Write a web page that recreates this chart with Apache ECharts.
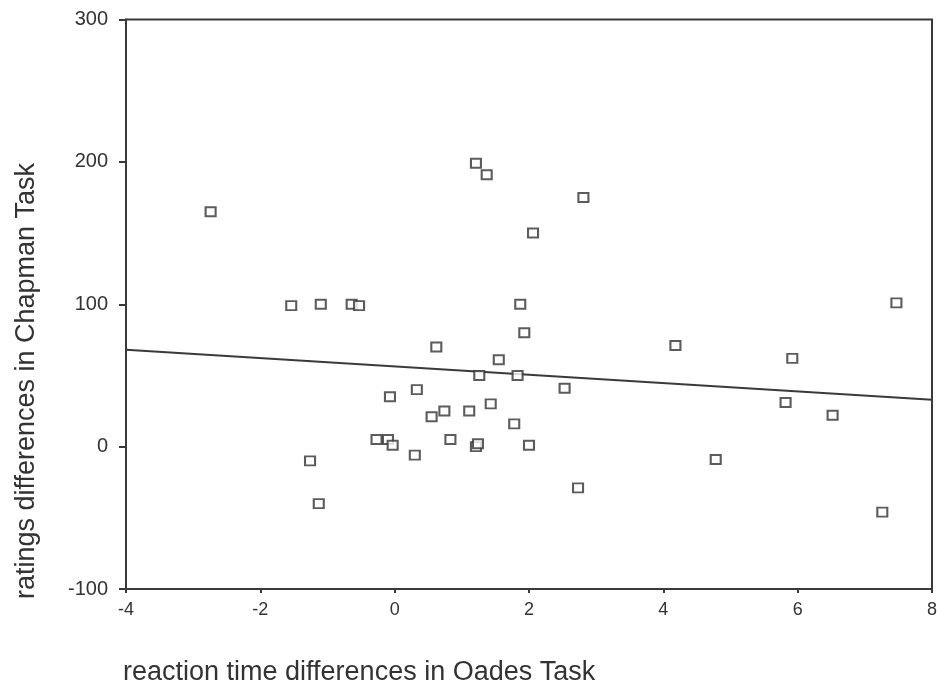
<!DOCTYPE html>
<html>
<head>
<meta charset="utf-8">
<script src="https://cdn.jsdelivr.net/npm/echarts@6/dist/echarts.min.js"></script>
<style>
html,body{margin:0;padding:0;background:#fff;}
#chart{width:937px;height:688px;}
</style>
</head>
<body>
<div id="chart"></div>
<script>
// Data
var xValues = [-2.74, 1.21, 1.37, 2.06, -1.54, -1.10, -0.64, -0.53, 1.87, 2.81, 7.47,
  1.93, 0.62, 1.55, 1.26, 1.83, 0.33, -0.07, 1.43, 0.74, 1.11, 0.55, 1.78,
  -0.27, -0.10, -0.03, 0.83, 1.21, 1.24, 2.00, 0.30, -1.26, -1.13,
  4.18, 5.92, 2.53, 5.82, 6.52, 4.78, 2.73, 7.26];
var yValues = [165, 199, 191, 150, 99, 100, 100, 99, 100, 175, 101,
  80, 70, 61, 50, 50, 40, 35, 30, 25, 25, 21, 16,
  5, 5, 1, 5, 0, 2, 1, -6, -10, -40,
  71, 62, 41, 31, 22, -9, -29, -46];
var fitX = [-4, 8];
var fitY = [68, 33];
var xTicks = [-4, -2, 0, 2, 4, 6, 8];
var yTicks = [-100, 0, 100, 200, 300];
var xTitle = 'reaction time differences in Oades Task';
var yTitle = 'ratings differences in Chapman Task';

var points = xValues.map(function (x, i) { return [x, yValues[i]]; });
var fitLine = fitX.map(function (x, i) { return [x, fitY[i]]; });

var font = '"Liberation Sans", Arial, Helvetica, sans-serif';
var ink = '#3a3a3a';

var chart = echarts.init(document.getElementById('chart'), null, {renderer: 'canvas'});
chart.setOption({
  animation: false,
  backgroundColor: '#ffffff',
  grid: {
    left: 126, right: 5, top: 19.5, bottom: 99,
    outerBoundsMode: 'none',
    containLabel: false,
    show: true, borderColor: ink, borderWidth: 2, backgroundColor: 'transparent'
  },
  xAxis: {
    type: 'value',
    min: xTicks[0], max: xTicks[xTicks.length - 1], interval: 2,
    splitLine: {show: false},
    axisLine: {show: true, onZero: false, lineStyle: {color: ink, width: 2}},
    axisTick: {show: true, length: 4, lineStyle: {color: ink, width: 2}},
    axisLabel: {color: '#333', fontFamily: font, fontSize: 18, margin: 12}
  },
  yAxis: {
    type: 'value',
    min: yTicks[0], max: yTicks[yTicks.length - 1], interval: 100,
    splitLine: {show: false},
    axisLine: {show: true, onZero: false, lineStyle: {color: ink, width: 2}},
    axisTick: {show: true, length: 7, lineStyle: {color: ink, width: 2}},
    axisLabel: {color: '#333', fontFamily: font, fontSize: 20, margin: 18}
  },
  series: [
    {
      type: 'line',
      data: fitLine,
      symbol: 'none',
      lineStyle: {color: ink, width: 2},
      z: 2
    },
    {
      type: 'scatter',
      data: points,
      symbol: 'rect',
      symbolSize: [10, 9],
      itemStyle: {color: '#ffffff', borderColor: '#333', borderWidth: 2},
      z: 3
    }
  ],
  graphic: [
    {
      type: 'text',
      x: 123, y: 673,
      style: {text: xTitle, font: '27px ' + font, fill: '#333', verticalAlign: 'middle'}
    },
    {
      type: 'text',
      x: 27, y: 381,
      rotation: Math.PI / 2,
      style: {text: yTitle, font: '27px ' + font, fill: '#333', align: 'center', verticalAlign: 'middle'}
    }
  ]
});
</script>
</body>
</html>
